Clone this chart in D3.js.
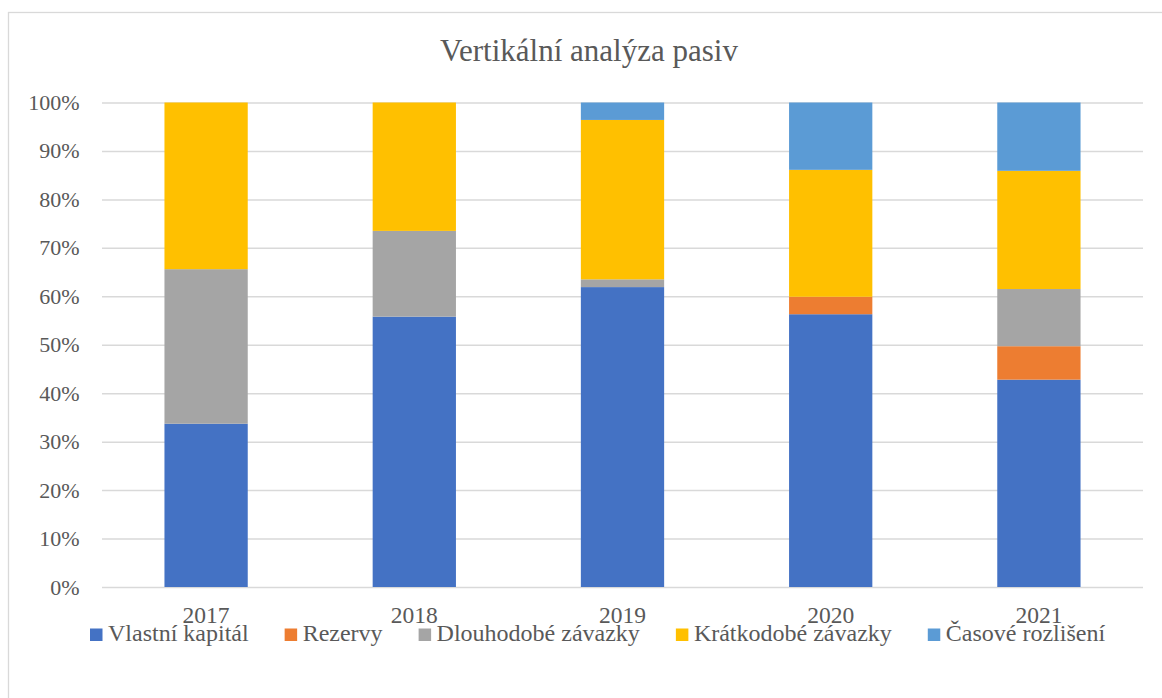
<!DOCTYPE html>
<html>
<head>
<meta charset="utf-8">
<script src="https://cdn.jsdelivr.net/npm/d3@7"></script>
<style>
  html, body { margin: 0; padding: 0; background: #fff; }
  svg { display: block; }
</style>
</head>
<body>
<svg id="chart" width="1162" height="698"></svg>
<script>
// Years on the category axis
const years = ["2017", "2018", "2019", "2020", "2021"];

// Share of total liabilities (%) per item and year
const vlastniKapital = [33.7, 55.8, 61.9, 56.3, 42.8];
const rezervy = [0, 0, 0, 3.6, 6.9];
const dlouhodobeZavazky = [31.9, 17.7, 1.6, 0, 11.8];
const kratkodobeZavazky = [34.4, 26.5, 32.9, 26.2, 24.4];
const casoveRozliseni = [0, 0, 3.6, 13.9, 14.1];

const seriesNames = ["Vlastní kapitál", "Rezervy", "Dlouhodobé závazky", "Krátkodobé závazky", "Časové rozlišení"];
const seriesValues = [vlastniKapital, rezervy, dlouhodobeZavazky, kratkodobeZavazky, casoveRozliseni];
const seriesColors = ["#4472C4", "#ED7D31", "#A5A5A5", "#FFC000", "#5B9BD5"];

const yTicks = [0, 0.1, 0.2, 0.3, 0.4, 0.5, 0.6, 0.7, 0.8, 0.9, 1.0];

const FONT = "'Liberation Serif', 'Tinos', 'Times New Roman'";
const TEXT_COLOR = "#595959";

const svg = d3.select("#chart");

// Applies the serif face used by every label
function serif(sel, size) {
  return sel
    .attr("font-family", FONT)
    .style("font-family", FONT)
    .style("font-size", size + "px")
    .style("fill", TEXT_COLOR);
}

// Chart frame
svg.append("rect")
  .attr("x", 8.5).attr("y", 12.5)
  .attr("width", 1200).attr("height", 800)
  .attr("fill", "#fff").attr("stroke", "#d9d9d9").attr("stroke-width", 1.3);

const plot = { left: 102, right: 1143, top: 102.5, bottom: 587 };

const x = d3.scaleBand()
  .domain(years)
  .range([plot.left, plot.right])
  .paddingInner(0.6)
  .paddingOuter(0.3);

const y = d3.scaleLinear()
  .domain([0, 1])
  .range([plot.bottom, plot.top]);

// Title
serif(svg.append("text")
  .attr("x", 589).attr("y", 61)
  .attr("text-anchor", "middle"), 31)
  .text("Vertikální analýza pasiv");

// Gridlines and y labels
const yAxis = d3.axisLeft(y)
  .tickValues(yTicks)
  .tickSize(-(plot.right - plot.left))
  .tickPadding(22.5)
  .tickFormat(d3.format(".0%"));

const gy = svg.append("g")
  .attr("transform", `translate(${plot.left},0)`)
  .call(yAxis)
  .attr("font-family", null);
gy.select(".domain").remove();
gy.selectAll(".tick line").attr("stroke", "#d9d9d9").attr("stroke-width", 1.5);
serif(gy.selectAll(".tick text"), 22);

// Stacked data
const table = years.map((yr, i) => {
  const row = { year: yr };
  seriesNames.forEach((n, k) => { row[n] = seriesValues[k][i] / 100; });
  return row;
});
const stacked = d3.stack().keys(seriesNames)(table);

svg.append("g").selectAll("g")
  .data(stacked)
  .join("g")
  .attr("fill", (d, i) => seriesColors[i])
  .selectAll("rect")
  .data(d => d)
  .join("rect")
  .attr("x", d => x(d.data.year))
  .attr("width", x.bandwidth())
  .attr("y", d => y(d[1]))
  .attr("height", d => y(d[0]) - y(d[1]));

// Category axis labels
const xAxis = d3.axisBottom(x).tickSize(0).tickPadding(0);
const gx = svg.append("g")
  .attr("transform", `translate(0,${plot.bottom})`)
  .call(xAxis)
  .attr("font-family", null);
gx.select(".domain").remove();
serif(gx.selectAll(".tick text")
  .attr("dy", null)
  .attr("y", 36), 23.5);

// Legend
const legend = svg.append("g").attr("transform", "translate(0,641)");
let lx = 90;
seriesNames.forEach((name, i) => {
  const item = legend.append("g").attr("transform", `translate(${lx},0)`);
  item.append("rect")
    .attr("x", 0).attr("y", -12.5)
    .attr("width", 12.5).attr("height", 12.5)
    .attr("fill", seriesColors[i]);
  const t = serif(item.append("text")
    .attr("x", 18).attr("y", 0), 24)
    .text(name);
  lx += 18 + t.node().getComputedTextLength() + 36;
});
</script>
</body>
</html>
